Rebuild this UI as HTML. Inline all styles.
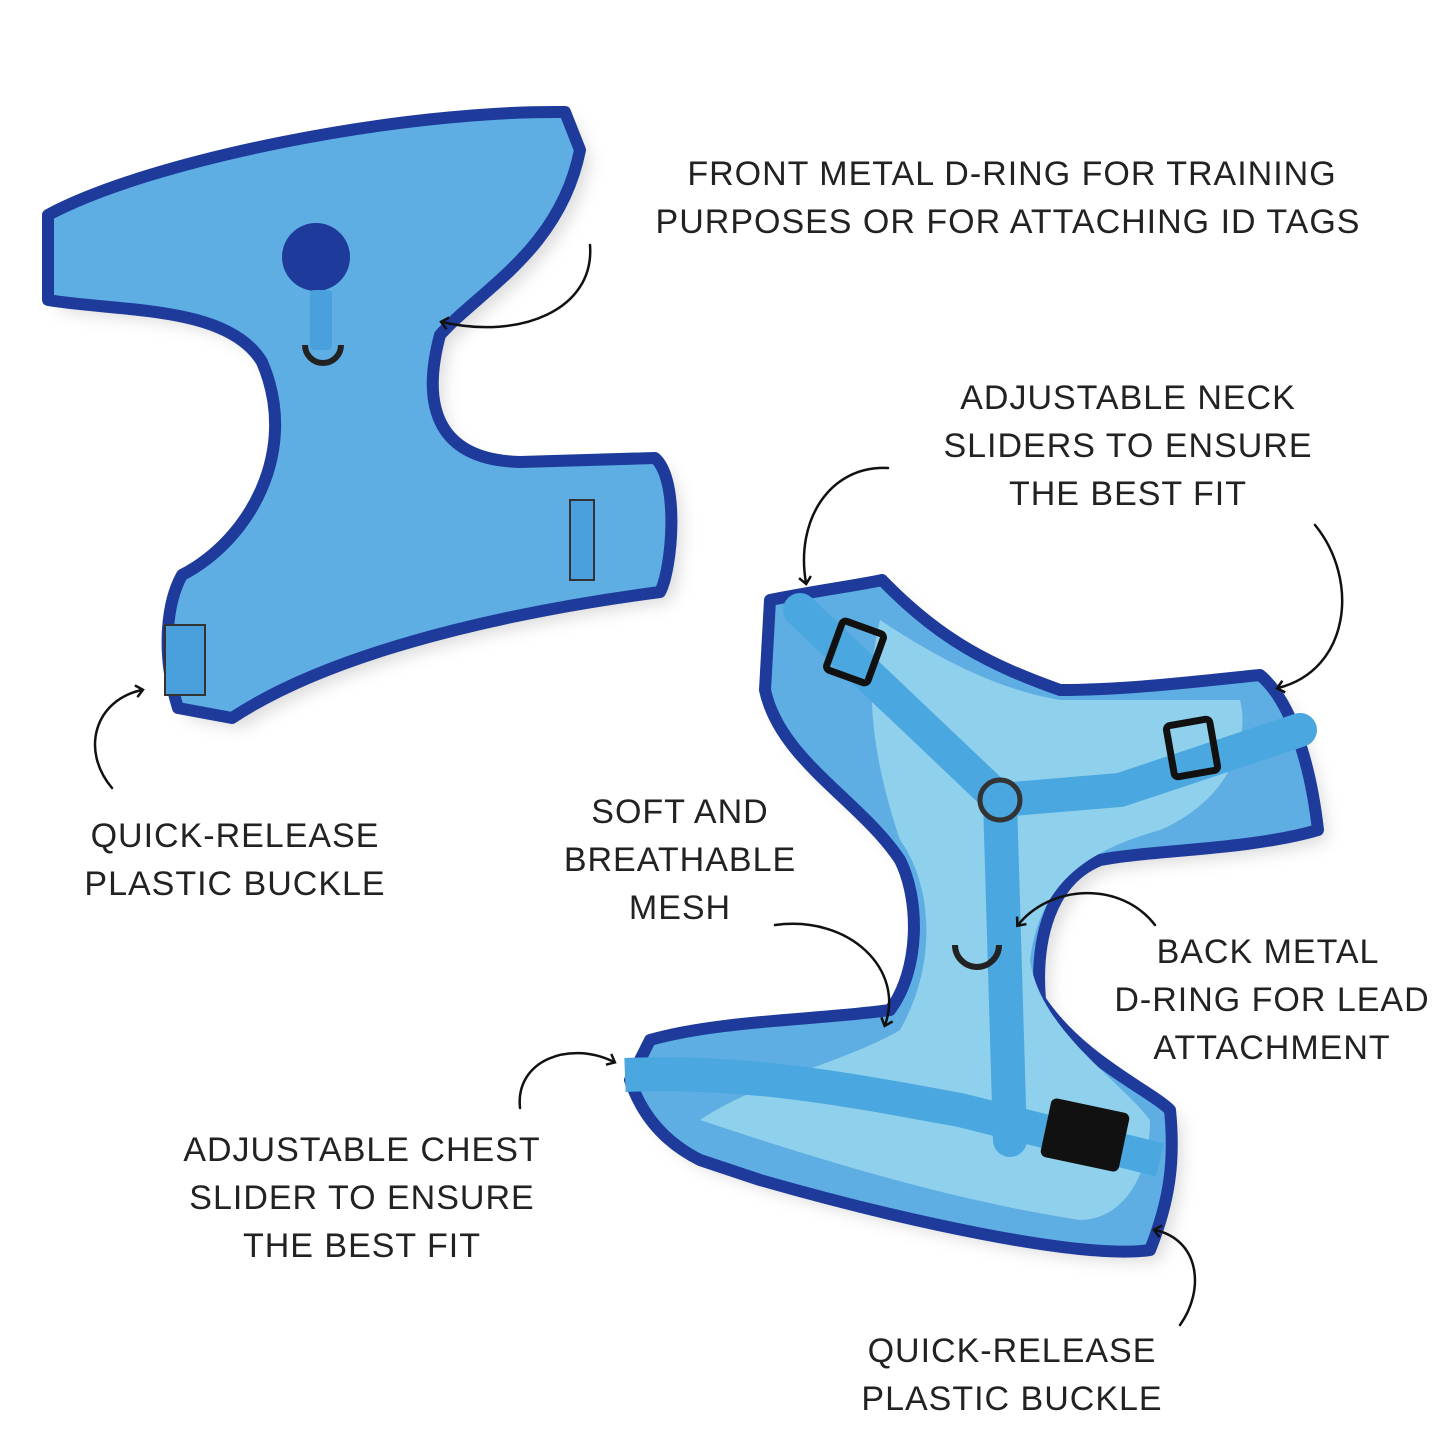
<!DOCTYPE html>
<html><head><meta charset="utf-8"><style>
html,body{margin:0;padding:0;background:#fff;}
svg{display:block}
text{font-family:"Liberation Sans",sans-serif;font-size:34px;fill:#222;text-anchor:middle;letter-spacing:1px}
</style></head><body>
<svg width="1445" height="1445" viewBox="0 0 1445 1445" xmlns="http://www.w3.org/2000/svg">
<defs>
<marker id="ah" markerWidth="14" markerHeight="14" refX="7" refY="7" orient="auto" markerUnits="userSpaceOnUse">
<path d="M1,1 L8,7 L1,13" fill="none" stroke="#111" stroke-width="2.5"/>
</marker>
<filter id="sh" x="-10%" y="-10%" width="130%" height="130%"><feGaussianBlur stdDeviation="8"/></filter>
</defs>
<rect width="1445" height="1445" fill="#fff"/>

<!-- Harness 1 -->
<path d="M60,225 C150,170 400,120 575,122 L590,160 C570,260 490,300 450,345 C430,420 450,470 530,472 L665,468 C690,490 682,580 670,602 C570,615 360,650 242,728 L188,718 C170,660 178,610 192,585 C260,550 310,460 272,372 C238,315 130,322 60,310 Z" fill="#999" opacity="0.35" filter="url(#sh)"/>
<path d="M48,215 C150,160 400,110 565,112 L580,150 C560,250 480,290 440,335 C420,410 440,460 520,462 L655,458 C680,480 672,570 660,592 C560,605 350,640 232,718 L178,708 C160,650 168,600 182,575 C250,540 300,450 262,362 C228,305 120,312 48,300 Z" fill="#5eaee3" stroke="#1e3b9c" stroke-width="12" stroke-linejoin="round"/>
<circle cx="316" cy="257" r="34" fill="#1e3b9c"/>
<rect x="310" y="290" width="22" height="60" rx="4" fill="#4aa0dc"/>
<path d="M305,345 a18,18 0 1 0 36,0" fill="none" stroke="#222" stroke-width="6"/>
<rect x="570" y="500" width="24" height="80" fill="#4aa0dc" stroke="#333" stroke-width="2"/>
<rect x="165" y="625" width="40" height="70" fill="#4aa0dc" stroke="#333" stroke-width="2"/>

<!-- Harness 2 -->
<path d="M780,610 C830,600 870,595 892,590 C950,650 1000,675 1070,700 C1140,700 1220,690 1270,685 C1300,710 1320,770 1328,840 C1260,860 1160,860 1110,870 C1060,890 1045,950 1050,1010 C1090,1070 1160,1100 1180,1120 C1185,1170 1180,1210 1160,1260 C1090,1270 910,1230 770,1190 L710,1170 C670,1150 650,1120 640,1090 L660,1050 C730,1030 830,1030 900,1020 C930,980 930,910 910,870 C870,810 790,770 775,700 Z" fill="#999" opacity="0.35" filter="url(#sh)"/>
<path d="M770,600 C820,590 860,585 882,580 C940,640 990,665 1060,690 C1130,690 1210,680 1260,675 C1290,700 1310,760 1318,830 C1250,850 1150,850 1100,860 C1050,880 1035,940 1040,1000 C1080,1060 1150,1090 1170,1110 C1175,1160 1170,1200 1150,1250 C1080,1260 900,1220 760,1180 L700,1160 C660,1140 640,1110 630,1080 L650,1040 C720,1020 820,1020 890,1010 C920,970 920,900 900,860 C860,800 780,760 765,690 Z" fill="#5eaee3" stroke="#1e3b9c" stroke-width="12" stroke-linejoin="round"/>
<path d="M880,620 C940,660 1000,690 1060,700 C1120,700 1200,700 1240,700 C1250,740 1230,800 1160,830 C1090,850 1040,880 1030,960 C1040,1030 1120,1080 1150,1120 C1150,1180 1120,1220 1080,1220 C950,1200 820,1160 700,1120 C760,1080 850,1060 900,1030 C940,960 930,880 900,840 C880,780 860,700 880,620 Z" fill="#8fd0ec"/>
<path d="M800,610 L1000,800 L1010,1140" fill="none" stroke="#4aa7e0" stroke-width="34" stroke-linecap="round"/>
<path d="M1000,800 L1120,790 L1300,730" fill="none" stroke="#4aa7e0" stroke-width="34" stroke-linecap="round"/>
<path d="M625,1075 C750,1070 850,1090 960,1110 L1160,1160" fill="none" stroke="#4aa7e0" stroke-width="34"/>
<rect x="833" y="626" width="44" height="52" rx="4" fill="none" stroke="#111" stroke-width="7" transform="rotate(20 855 652)"/>
<rect x="1170" y="722" width="44" height="52" rx="4" fill="none" stroke="#111" stroke-width="7" transform="rotate(-10 1192 748)"/>
<rect x="1045" y="1105" width="80" height="60" rx="6" fill="#111" transform="rotate(12 1085 1135)"/>
<path d="M955,945 a22,22 0 1 0 44,0" fill="none" stroke="#222" stroke-width="6"/>
<circle cx="1000" cy="800" r="20" fill="none" stroke="#333" stroke-width="5"/>

<!-- Arrows -->
<g fill="none" stroke="#111" stroke-width="2.5" stroke-linecap="round">
<path d="M590,245 C595,310 520,340 442,322" marker-end="url(#ah)"/>
<path d="M888,468 C830,465 795,520 806,583" marker-end="url(#ah)"/>
<path d="M1315,525 C1360,580 1350,670 1278,688" marker-end="url(#ah)"/>
<path d="M112,788 C80,750 95,700 142,690" marker-end="url(#ah)"/>
<path d="M775,925 C850,915 905,970 885,1025" marker-end="url(#ah)"/>
<path d="M1155,925 C1120,880 1050,885 1018,925" marker-end="url(#ah)"/>
<path d="M520,1108 C515,1060 570,1040 614,1062" marker-end="url(#ah)"/>
<path d="M1180,1325 C1205,1290 1200,1240 1155,1230" marker-end="url(#ah)"/>
</g>

<!-- Labels -->
<text x="1012" y="185">FRONT METAL D-RING FOR TRAINING</text>
<text x="1008" y="233">PURPOSES OR FOR ATTACHING ID TAGS</text>
<text x="1128" y="409">ADJUSTABLE NECK</text>
<text x="1128" y="457">SLIDERS TO ENSURE</text>
<text x="1128" y="505">THE BEST FIT</text>
<text x="235" y="847">QUICK-RELEASE</text>
<text x="235" y="895">PLASTIC BUCKLE</text>
<text x="680" y="823">SOFT AND</text>
<text x="680" y="871">BREATHABLE</text>
<text x="680" y="919">MESH</text>
<text x="1268" y="963">BACK METAL</text>
<text x="1272" y="1011">D-RING FOR LEAD</text>
<text x="1272" y="1059">ATTACHMENT</text>
<text x="362" y="1161">ADJUSTABLE CHEST</text>
<text x="362" y="1209">SLIDER TO ENSURE</text>
<text x="362" y="1257">THE BEST FIT</text>
<text x="1012" y="1362">QUICK-RELEASE</text>
<text x="1012" y="1410">PLASTIC BUCKLE</text>
</svg>
</body></html>
